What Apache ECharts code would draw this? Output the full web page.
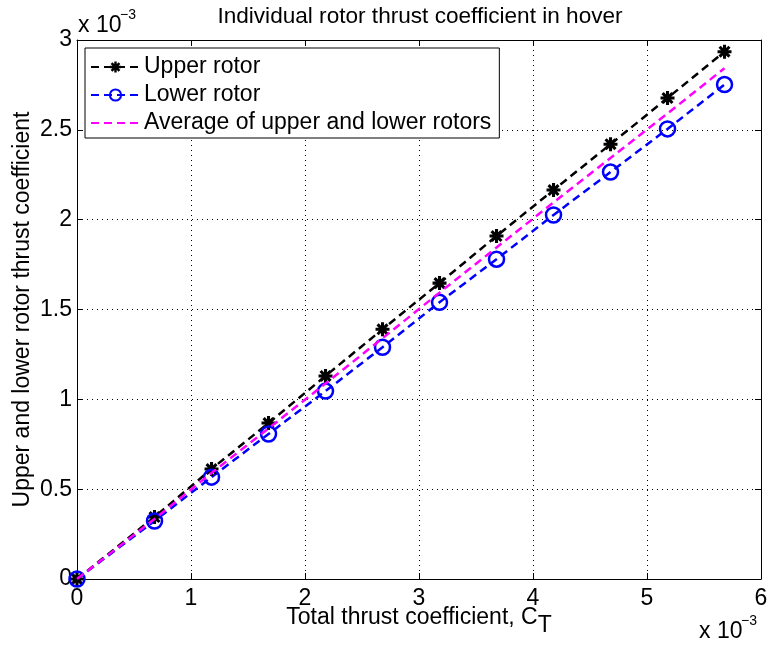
<!DOCTYPE html>
<html><head><meta charset="utf-8">
<script src="https://cdn.jsdelivr.net/npm/echarts@6/dist/echarts.min.js"></script>
<style>html,body{margin:0;padding:0;background:#fff}#c{width:771px;height:648px}</style>
</head><body><div id="c"></div>
<script>
const totalCT = [0, 0.68, 1.18, 1.68, 2.18, 2.68, 3.18, 3.68, 4.18, 4.68, 5.18, 5.68];
const upperCT = [0, 0.345, 0.612, 0.868, 1.13, 1.39, 1.647, 1.909, 2.165, 2.42, 2.677, 2.935];
const lowerCT = [0, 0.323, 0.567, 0.807, 1.046, 1.29, 1.54, 1.78, 2.026, 2.265, 2.505, 2.752];
const averageCT = [0, 0.334, 0.59, 0.838, 1.088, 1.34, 1.594, 1.845, 2.096, 2.343, 2.591, 2.843];
const xTicks = [0, 1, 2, 3, 4, 5, 6];
const yTicks = [0, 0.5, 1, 1.5, 2, 2.5, 3];

function starPath() {
  let d = '';
  const L = 1, W = 0.22;
  for (let k = 0; k < 4; k++) {
    const a = k * Math.PI / 4;
    const c = Math.cos(a), s = Math.sin(a);
    const pts = [[-L, -W], [L, -W], [L, W], [-L, W]].map(p => [p[0]*c - p[1]*s, p[0]*s + p[1]*c]);
    d += 'M' + pts.map(p => (p[0]+1).toFixed(3) + ' ' + (p[1]+1).toFixed(3)).join(' L') + ' Z ';
  }
  return 'path://' + d;
}
const pair = (xs, ys) => xs.map((x, i) => [x, ys[i]]);
const font = 'Liberation Sans, Arial, sans-serif';
const FS = 23;
const chart = echarts.init(document.getElementById('c'));
const gridLine = { show: true, lineStyle: { color: '#000', type: [1, 4], width: 1 } };
const txt = (x, y, text, size) => ({ type: 'text', x: x, y: y, style: { text: text, fontSize: size, fontFamily: font, fill: '#000', verticalAlign: 'middle', align: 'left' } });
chart.setOption({
  animation: false,
  textStyle: { fontFamily: font },
  title: { text: 'Individual rotor thrust coefficient in hover', left: 415, top: 0, textAlign: 'center',
    textStyle: { fontFamily: font, fontSize: 22.6, fontWeight: 'normal', color: '#000' } },
  grid: { left: 77, right: 10, top: 40, bottom: 69, outerBoundsMode: 'none', containLabel: false },
  legend: {
    orient: 'vertical', left: 85, top: 48, padding: [6, 8, 2, 5],
    backgroundColor: '#fff', borderColor: '#000', borderWidth: 1, borderRadius: 0,
    itemWidth: 49, itemHeight: 14, itemGap: 2,
    textStyle: { fontFamily: font, fontSize: FS, color: '#000', lineHeight: 26, padding: [0, 0, 0, -1] },
    data: ['Upper rotor', 'Lower rotor', 'Average of upper and lower rotors']
  },
  xAxis: [{
    type: 'value', min: 0, max: 6, interval: 1,
    axisLine: { lineStyle: { color: '#000', width: 1 } },
    axisTick: { inside: true, length: 6, lineStyle: { color: '#000' } },
    axisLabel: { color: '#000', fontSize: FS, fontFamily: font, margin: 8, formatter: v => xTicks.includes(v) ? String(v) : '' },
    splitLine: gridLine,
    name: '{a|Total thrust coefficient, C}{b|T}', nameLocation: 'middle', nameGap: 19, nameMoveOverlap: false,
    nameTextStyle: { rich: { a: { fontSize: FS, fontFamily: font, color: '#000' }, b: { fontSize: FS, fontFamily: font, color: '#000', padding: [16, 0, 0, 0] } } }
  }, {
    type: 'value', min: 0, max: 6, interval: 1, position: 'top',
    axisLine: { onZero: false, lineStyle: { color: '#000' } },
    axisTick: { inside: true, length: 6, lineStyle: { color: '#000' } },
    axisLabel: { show: false }, splitLine: { show: false }
  }],
  yAxis: [{
    type: 'value', min: 0, max: 3, interval: 0.5,
    axisLine: { show: true, lineStyle: { color: '#000' } },
    axisTick: { show: true, inside: true, length: 6, lineStyle: { color: '#000' } },
    axisLabel: { color: '#000', fontSize: FS, fontFamily: font, margin: 5, formatter: v => yTicks.includes(v) ? String(v) : '' },
    splitLine: gridLine,
    name: 'Upper and lower rotor thrust coefficient', nameLocation: 'middle', nameGap: 43, nameMoveOverlap: false,
    nameTextStyle: { fontSize: FS, fontFamily: font, color: '#000' }
  }, {
    type: 'value', min: 0, max: 3, interval: 0.5, position: 'right',
    axisLine: { show: true, onZero: false, lineStyle: { color: '#000' } },
    axisTick: { show: true, inside: true, length: 6, lineStyle: { color: '#000' } },
    axisLabel: { show: false }, splitLine: { show: false }
  }],
  graphic: [
    txt(78, 26, 'x 10', FS), txt(120, 15, '−3', 14),
    txt(699, 632, 'x 10', FS), txt(741, 621, '−3', 14)
  ],
  series: [
    { name: 'Upper rotor', type: 'line', data: pair(totalCT, upperCT), symbol: starPath(), symbolSize: 14,
      itemStyle: { color: '#000' }, lineStyle: { color: '#000', width: 2.5, type: [8, 5] }, z: 3 },
    { name: 'Lower rotor', type: 'line', data: pair(totalCT, lowerCT), symbol: 'circle', symbolSize: 15,
      itemStyle: { color: 'rgba(0,0,0,0)', borderColor: '#0000ff', borderWidth: 2.5 }, lineStyle: { color: '#0000ff', width: 2.5, type: [8, 5] }, z: 3 },
    { name: 'Average of upper and lower rotors', type: 'line', data: pair(totalCT, averageCT), symbol: 'emptyCircle', symbolSize: 0, showSymbol: false,
      itemStyle: { color: '#ff00ff', opacity: 0 }, lineStyle: { color: '#ff00ff', width: 2.5, type: [8, 5] }, z: 4 }
  ]
});
</script></body></html>
